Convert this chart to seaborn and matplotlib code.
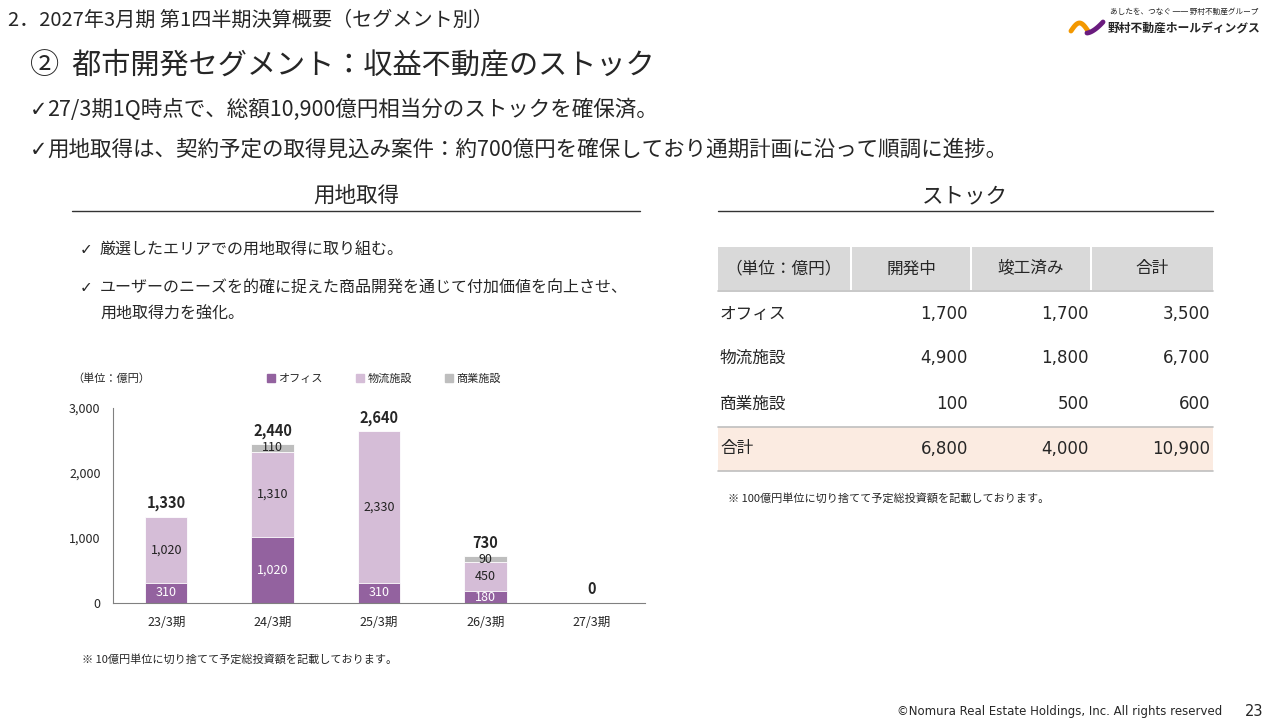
import numpy as np
import pandas as pd
import matplotlib
matplotlib.use('Agg')
import matplotlib.pyplot as plt
import seaborn as sns
from matplotlib.patches import Rectangle, Patch

# chart data (億円)
periods = ['23/3期', '24/3期', '25/3期', '26/3期', '27/3期']
office = [310, 1020, 310, 180, 0]
logistics = [1020, 1310, 2330, 450, 0]
commercial = [0, 110, 0, 90, 0]
totals = [1330, 2440, 2640, 730, 0]
legend_labels = ['オフィス', '物流施設', '商業施設']

# stock table
table_header = ['（単位：億円）', '開発中', '竣工済み', '合計']
stock_rows = ['オフィス', '物流施設', '商業施設', '合計']
stock_dev = [1700, 4900, 100, 6800]
stock_done = [1700, 1800, 500, 4000]
stock_total = [3500, 6700, 600, 10900]

C_OFF = '#93629F'
C_LOG = '#D5BDD7'
C_COM = '#BEBEBE'

sns.set_style('white')
plt.rcParams['font.family'] = ['Noto Sans CJK JP', 'DejaVu Sans']

fig = plt.figure(figsize=(12.8, 7.2), dpi=100)

# background axes in pixel coords for slide text
bg = fig.add_axes([0, 0, 1, 1])
bg.set_xlim(0, 1280)
bg.set_ylim(720, 0)
bg.axis('off')

bg.text(8, 20, '2．2027年3月期 第1四半期決算概要（セグメント別）', fontsize=14.5, va='center')
bg.text(30, 65, '②  都市開発セグメント：収益不動産のストック', fontsize=21, va='center')
bg.text(30, 110, '✓', fontsize=15, va='center', family='DejaVu Sans')
bg.text(47, 110, '27/3期1Q時点で、総額10,900億円相当分のストックを確保済。', fontsize=15.5, va='center')
bg.text(30, 150, '✓', fontsize=15, va='center', family='DejaVu Sans')
bg.text(47, 150, '用地取得は、契約予定の取得見込み案件：約700億円を確保しており通期計画に沿って順調に進捗。',
        fontsize=15.5, va='center')

# section headings
bg.text(356, 196, '用地取得', fontsize=15.5, ha='center', va='center')
bg.plot([72, 640], [211, 211], color='#333333', lw=1)
bg.text(965, 196, 'ストック', fontsize=15.5, ha='center', va='center')
bg.plot([718, 1213], [211, 211], color='#333333', lw=1)

# left bullets
bg.text(80, 250, '✓', fontsize=11, va='center', family='DejaVu Sans')
bg.text(100, 250, '厳選したエリアでの用地取得に取り組む。', fontsize=11.5, va='center')
bg.text(80, 288, '✓', fontsize=11, va='center', family='DejaVu Sans')
bg.text(100, 288, 'ユーザーのニーズを的確に捉えた商品開発を通じて付加価値を向上させ、', fontsize=11.5, va='center')
bg.text(100, 314, '用地取得力を強化。', fontsize=11.5, va='center')

bg.text(72, 379, '（単位：億円）', fontsize=8, va='center')
bg.text(82, 659, '※ 10億円単位に切り捨てて予定総投資額を記載しております。', fontsize=8, va='center')

# stock table
col_x = [(718, 850), (852, 970), (972, 1090), (1092, 1213)]
for x0, x1 in col_x:
    bg.add_patch(Rectangle((x0, 247), x1 - x0, 43, color='#D9D9D9', lw=0))
for (x0, x1), h in zip(col_x, table_header):
    bg.text((x0 + x1) / 2, 269, h, fontsize=12, ha='center', va='center')
bg.plot([718, 1213], [291, 291], color='#BFBFBF', lw=1.2)
bg.add_patch(Rectangle((718, 427), 495, 44, color='#FBEBE1', lw=0))
bg.plot([718, 1213], [427, 427], color='#BFBFBF', lw=1.2)
bg.plot([718, 1213], [471, 471], color='#BFBFBF', lw=1.2)
row_y = [314, 358, 404, 449]
for y, name, a, b, c in zip(row_y, stock_rows, stock_dev, stock_done, stock_total):
    bg.text(720, y, name, fontsize=12, va='center')
    for xr, v in zip([968, 1089, 1210], [a, b, c]):
        bg.text(xr, y, f'{v:,}', fontsize=12, ha='right', va='center', family='DejaVu Sans')
bg.text(728, 498, '※ 100億円単位に切り捨てて予定総投資額を記載しております。', fontsize=8, va='center')

# footer
bg.text(1222, 712, '©Nomura Real Estate Holdings, Inc. All rights reserved', fontsize=8.5,
        ha='right', va='center', family='DejaVu Sans')
bg.text(1263, 711, '23', fontsize=10.5, ha='right', va='center', family='DejaVu Sans')

# logo
bg.text(1110, 12, 'あしたを、つなぐ ── 野村不動産グループ', fontsize=5.5, va='center')
bg.text(1108, 28, '野村不動産ホールディングス', fontsize=8.5, fontweight='bold', va='center')
t = np.linspace(0, 1, 40)
bg.plot(1071 + 17 * t, 31 - 8 * np.sin(np.pi * t), color='#F39800', lw=3.5, solid_capstyle='round')
bg.plot(1087 + 16 * t, 33 - 11 * t ** 1.6, color='#6A1B7E', lw=3.5, solid_capstyle='round')

# stacked bar chart
ax = fig.add_axes([113 / 1280, (720 - 603) / 720, 532 / 1280, 195 / 720])
df = pd.DataFrame({'period': periods, 'office': office, 'logistics': logistics, 'commercial': commercial})
df['lvl2'] = df['office'] + df['logistics']
df['lvl3'] = df['lvl2'] + df['commercial']
for col, c in [('lvl3', C_COM), ('lvl2', C_LOG), ('office', C_OFF)]:
    sns.barplot(data=df, x='period', y=col, color=c, width=0.4, saturation=1, errorbar=None,
                edgecolor='white', linewidth=0.6, ax=ax)

for i, r in df.iterrows():
    if r['office'] > 0:
        ax.text(i, r['office'] / 2, f"{r['office']:,}", color='white', fontsize=9, ha='center', va='center')
    if r['logistics'] > 0:
        ax.text(i, r['office'] + r['logistics'] / 2, f"{r['logistics']:,}", color='#222222',
                fontsize=9, ha='center', va='center')
    if r['commercial'] > 0:
        ax.text(i, r['lvl2'] + r['commercial'] / 2, f"{r['commercial']:,}", color='#222222',
                fontsize=9, ha='center', va='center')
    ax.annotate(f'{totals[i]:,}', (i, r['lvl3']), xytext=(0, 4), textcoords='offset points',
                ha='center', va='bottom', fontsize=10.5, fontweight='bold')

ax.set_xlim(-0.5, 4.5)
ax.set_ylim(0, 3000)
ax.set_yticks([0, 1000, 2000, 3000])
ax.set_yticklabels([f'{v:,}' for v in [0, 1000, 2000, 3000]])
ax.set_xlabel('')
ax.set_ylabel('')
ax.set_xticks(np.arange(-0.5, 5, 1), minor=True)
ax.tick_params(axis='x', which='major', length=0, pad=9, labelsize=9)
ax.tick_params(axis='x', which='minor', length=4, direction='out', color='#808080', width=0.8)
ax.tick_params(axis='y', length=0, pad=9, labelsize=9)
sns.despine(ax=ax)
for s in ['left', 'bottom']:
    ax.spines[s].set_color('#808080')
    ax.spines[s].set_linewidth(0.8)
ax.patch.set_alpha(0)

fig.legend(handles=[Patch(color=c, label=l) for c, l in zip([C_OFF, C_LOG, C_COM], legend_labels)],
           loc='center', bbox_to_anchor=(384 / 1280, 1 - 379 / 720), ncol=3, frameon=False, fontsize=8,
           handlelength=0.7, handleheight=0.7, handletextpad=0.3, columnspacing=3)

fig.savefig('out.png', dpi=100)
